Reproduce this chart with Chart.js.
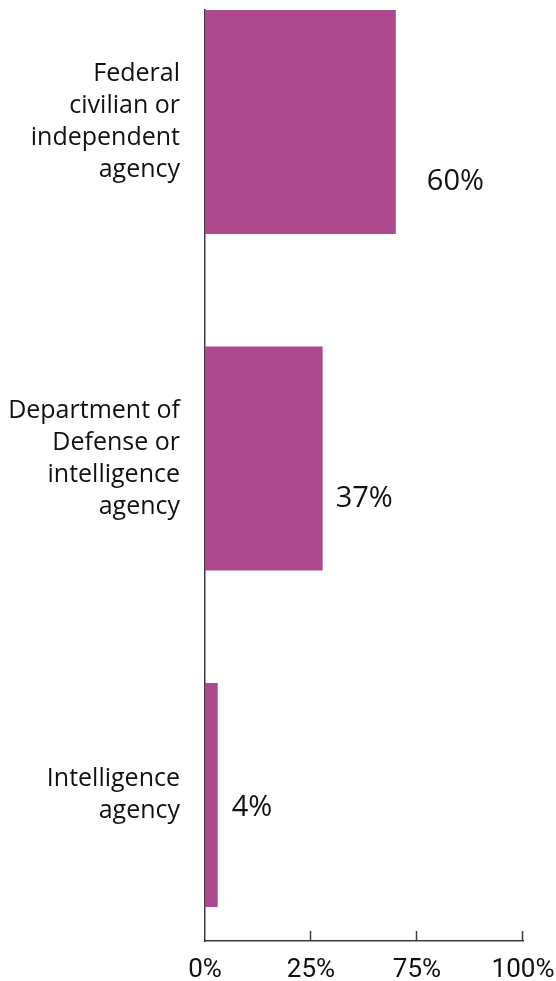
<!DOCTYPE html>
<html>
<head>
<meta charset="utf-8">
<script src="https://cdn.jsdelivr.net/npm/chart.js@4"></script>
<style>
    html, body { margin: 0; padding: 0; background: #fff; }
    #wrap { width: 556px; height: 981px; }
</style>
</head>
<body>
<div id="wrap"><canvas id="myChart"></canvas></div>
<script>
var categories = [
    ['Federal', 'civilian or', 'independent', 'agency'],
    ['Department of', 'Defense or', 'intelligence', 'agency'],
    ['Intelligence', 'agency']
];
var shares = [60, 37, 4];
var tickLabels = ['0%', '25%', '75%', '100%'];

// nudges for the value labels, [dx from bar end, dy from bar centre]
var labelNudge = [[31, 60], [13, 40], [14, 13]];

var axisColor = '#3b3b45';

var valueLabels = {
    id: 'valueLabels',
    afterDatasetsDraw: function(chart) {
        var ctx = chart.ctx;
        var meta = chart.getDatasetMeta(0);
        ctx.save();
        ctx.fillStyle = '#111';
        ctx.font = '29px "Open Sans"';
        ctx.textAlign = 'left';
        ctx.textBaseline = 'middle';
        meta.data.forEach(function(bar, i) {
            ctx.fillText(shares[i] + '%', bar.x + labelNudge[i][0], bar.y + labelNudge[i][1]);
        });
        ctx.restore();
    }
};

// small tick marks pointing up from the x axis
var upTicks = {
    id: 'upTicks',
    afterDraw: function(chart) {
        var ctx = chart.ctx;
        var xs = chart.scales.x;
        var bottom = chart.chartArea.bottom;
        ctx.save();
        ctx.strokeStyle = axisColor;
        ctx.lineWidth = 1.5;
        xs.ticks.forEach(function(t, i) {
            if (i === 0) return;
            var px = Math.round(xs.getPixelForValue(t.value)) - 0.5;
            ctx.beginPath();
            ctx.moveTo(px, bottom);
            ctx.lineTo(px, bottom - 10);
            ctx.stroke();
        });
        ctx.restore();
    }
};

document.addEventListener('DOMContentLoaded', function() {
    var ctx = document.getElementById('myChart').getContext('2d');
    var myChart = new Chart(ctx, {
        type: 'bar',
        data: {
            datasets: [{
                data: shares.map(function(v, i) { return { x: v, y: i }; }),
                backgroundColor: '#ad4a8e',
                borderWidth: 0,
                categoryPercentage: 1,
                barPercentage: 0.666
            }]
        },
        plugins: [valueLabels, upTicks],
        options: {
            indexAxis: 'y',
            responsive: true,
            maintainAspectRatio: false,
            animation: false,
            layout: { padding: { top: 10, right: 33, left: 0, bottom: 0 } },
            plugins: {
                legend: { display: false },
                tooltip: { enabled: false }
            },
            scales: {
                x: {
                    type: 'linear',
                    min: 0,
                    max: 100,
                    afterBuildTicks: function(scale) {
                        scale.ticks = tickLabels.map(function(t, i) {
                            return { value: i * 100 / (tickLabels.length - 1) };
                        });
                    },
                    afterFit: function(scale) {
                        scale.height = 40;
                        scale.paddingLeft = 0;
                        scale.paddingRight = 0;
                    },
                    grid: { display: false },
                    border: { display: true, color: axisColor, width: 1.5 },
                    ticks: {
                        color: '#111',
                        font: { family: 'Roboto', size: 26 },
                        padding: 6,
                        maxRotation: 0,
                        autoSkip: false,
                        callback: function(v, i) { return tickLabels[i]; }
                    }
                },
                y: {
                    type: 'linear',
                    reverse: true,
                    offset: false,
                    min: -0.333,
                    max: 2.434,
                    afterBuildTicks: function(scale) {
                        scale.ticks = categories.map(function(c, i) { return { value: i }; });
                    },
                    afterFit: function(scale) {
                        scale.width = 205;
                        scale.paddingTop = 0;
                        scale.paddingBottom = 0;
                    },
                    grid: { display: false, offset: false },
                    border: { display: true, color: axisColor, width: 1.5 },
                    ticks: {
                        color: '#111',
                        font: { family: 'Open Sans', size: 25, lineHeight: 1.28 },
                        padding: 17,
                        autoSkip: false,
                        callback: function(v) { return categories[v]; }
                    }
                }
            }
        }
    });
});
</script>
</body>
</html>
